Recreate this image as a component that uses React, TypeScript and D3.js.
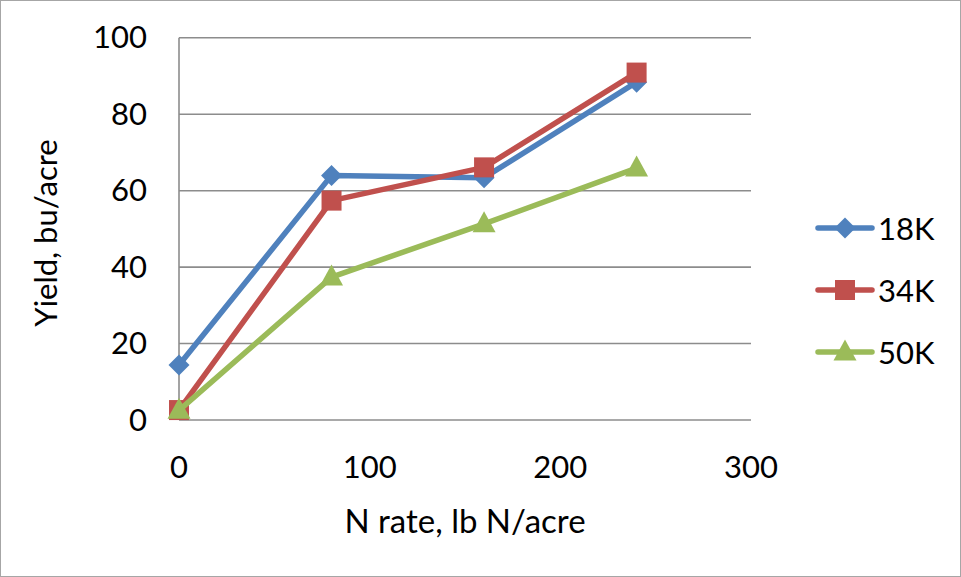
import React from "react";
import * as d3 from "d3";

const nRates = [0, 80, 160, 240];
const seriesNames = ["18K", "34K", "50K"];
const yield18K = [14.4, 64.0, 63.4, 88.4];
const yield34K = [2.6, 57.4, 66.1, 90.9];
const yield50K = [2.5, 37.4, 51.3, 65.9];
const seriesColors = ["#4F81BD", "#C0504D", "#9BBB59"];
const seriesMarkers = ["diamond", "square", "triangle"];
const xTicks = [0, 100, 200, 300];
const yTicks = [0, 20, 40, 60, 80, 100];

const W = 961;
const H = 577;
const FONT = "Lato, 'Open Sans', sans-serif";

function Marker({ type, x, y, color }: { type: string; x: number; y: number; color: string }) {
  if (type === "diamond") {
    const r = 10.5;
    return <path d={`M${x},${y - r}L${x + r},${y}L${x},${y + r}L${x - r},${y}Z`} fill={color} />;
  }
  if (type === "square") {
    const s = 20;
    return <rect x={x - s / 2} y={y - s / 2} width={s} height={s} fill={color} />;
  }
  const w = 23;
  const h = 21;
  return <path d={`M${x},${y - h * 0.6}L${x + w / 2},${y + h * 0.4}L${x - w / 2},${y + h * 0.4}Z`} fill={color} />;
}

export default function App() {
  const x = d3.scaleLinear().domain([0, 300]).range([179, 751]);
  const y = d3.scaleLinear().domain([0, 100]).range([420, 37.8]);
  const allSeries = [yield18K, yield34K, yield50K];
  const line = d3
    .line<[number, number]>()
    .x((d) => x(d[0]))
    .y((d) => y(d[1]));

  const legendY = [228, 290, 352];

  return (
    <svg
      width={W}
      height={H}
      style={{ position: "absolute", left: 0, top: 0, background: "#fff" }}
      fontFamily={FONT}
    >
      <rect x={0.5} y={0.5} width={W - 1} height={H - 1} fill="#fff" stroke="#a6a6a6" strokeWidth={1} />
      {yTicks.map((t) => (
        <line key={"g" + t} x1={x(0)} x2={x(300)} y1={y(t)} y2={y(t)} stroke="#8c8c8c" strokeWidth={1.6} />
      ))}
      <line x1={x(0)} x2={x(0)} y1={y(100)} y2={y(0)} stroke="#8c8c8c" strokeWidth={1.6} />
      {yTicks.map((t) => (
        <text key={"yl" + t} x={147} y={y(t) + 10.5} textAnchor="end" fontSize={31} fill="#000">
          {t}
        </text>
      ))}
      {xTicks.map((t) => (
        <text key={"xl" + t} x={x(t)} y={478} textAnchor="middle" fontSize={31} fill="#000">
          {t}
        </text>
      ))}
      <text x={465} y={533} textAnchor="middle" fontSize={33} fill="#000">
        N rate, lb N/acre
      </text>
      <text
        transform={`translate(57,233) rotate(-90)`}
        textAnchor="middle"
        fontSize={31}
        fill="#000"
      >
        Yield, bu/acre
      </text>
      {allSeries.map((vals, i) => {
        const pts = nRates.map((r, j) => [r, vals[j]] as [number, number]);
        return (
          <g key={"s" + i}>
            <path d={line(pts) || ""} fill="none" stroke={seriesColors[i]} strokeWidth={5.5} strokeLinejoin="round" />
            {pts.map((p, j) => (
              <Marker key={j} type={seriesMarkers[i]} x={x(p[0])} y={y(p[1])} color={seriesColors[i]} />
            ))}
          </g>
        );
      })}
      {seriesNames.map((name, i) => (
        <g key={"lg" + i}>
          <line x1={818} x2={872} y1={legendY[i]} y2={legendY[i]} stroke={seriesColors[i]} strokeWidth={5.5} strokeLinecap="round" />
          <Marker type={seriesMarkers[i]} x={845} y={legendY[i]} color={seriesColors[i]} />
          <text x={878} y={legendY[i] + 11.5} fontSize={31} fill="#000">
            {name}
          </text>
        </g>
      ))}
    </svg>
  );
}
